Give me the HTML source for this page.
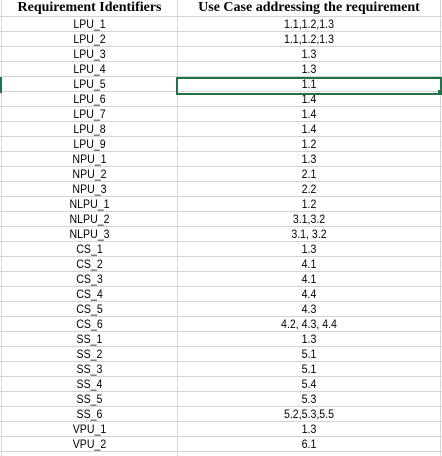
<!DOCTYPE html>
<html><head><meta charset="utf-8"><style>
html,body{margin:0;padding:0;background:#fff;width:442px;height:456px;overflow:hidden}
#sheet{position:relative;width:442px;height:456px}
.hl{position:absolute;left:0;width:442px;height:1px;background:#d4d4d4}
.vl{position:absolute;top:0;width:1px;height:456px;background:#d4d4d4}
.c{position:absolute;text-align:center;font-family:"Liberation Sans",sans-serif;font-size:11.5px;color:#000;line-height:15px;height:15px;transform:scaleX(0.92)}
.h{position:absolute;text-align:center;font-family:"Liberation Serif",serif;font-weight:bold;font-size:14px;color:#000;line-height:16px;top:0}
#sel{position:absolute;left:176px;top:77px;width:262px;height:14px;border:2px solid #217346}
#selh{position:absolute;left:438px;top:90px;width:4px;height:4px;background:#217346}
#rowmark{position:absolute;left:0;top:77px;width:2px;height:16px;background:#217346}
</style></head><body>
<div id="sheet">
<div class="h" style="left:2px;width:175px">Requirement Identifiers</div>
<div class="h" style="left:178px;width:262px">Use Case addressing the requirement</div>
</div>
<script>
const ids=["LPU_1","LPU_2","LPU_3","LPU_4","LPU_5","LPU_6","LPU_7","LPU_8","LPU_9","NPU_1","NPU_2","NPU_3","NLPU_1","NLPU_2","NLPU_3","CS_1","CS_2","CS_3","CS_4","CS_5","CS_6","SS_1","SS_2","SS_3","SS_4","SS_5","SS_6","VPU_1","VPU_2"];
const cases=["1.1,1.2,1.3","1.1,1.2,1.3","1.3","1.3","1.1","1.4","1.4","1.4","1.2","1.3","2.1","2.2","1.2","3.1,3.2","3.1, 3.2","1.3","4.1","4.1","4.4","4.3","4.2, 4.3, 4.4","1.3","5.1","5.1","5.4","5.3","5.2,5.3,5.5","1.3","6.1"];
const s=document.getElementById('sheet');
const top0=17,rh=15;
function line(cls,style){const d=document.createElement('div');d.className=cls;d.setAttribute('style',style);


s.appendChild(d);}
line('vl','left:1px');line('vl','left:177px');line('vl','left:440px');
line('hl','top:'+(top0-1)+'px');
for(let i=0;i<ids.length;i++){
 const y=top0+i*rh;
 line('hl','top:'+(y+rh-1)+'px');
 const a=document.createElement('div');a.className='c';a.style.left='2px';a.style.width='175px';a.style.top=(y+0.5)+'px';a.textContent=ids[i];
 
 
 s.appendChild(a);
 const b=document.createElement('div');b.className='c';b.style.left='178px';b.style.width='262px';b.style.top=(y+0.5)+'px';b.textContent=cases[i];
 
 
 s.appendChild(b);
}
const sel=document.createElement('div');sel.id='sel';


s.appendChild(sel);
const sh=document.createElement('div');sh.id='selh';


s.appendChild(sh);
const rm=document.createElement('div');rm.id='rowmark';


s.appendChild(rm);
</script>
</body></html>
